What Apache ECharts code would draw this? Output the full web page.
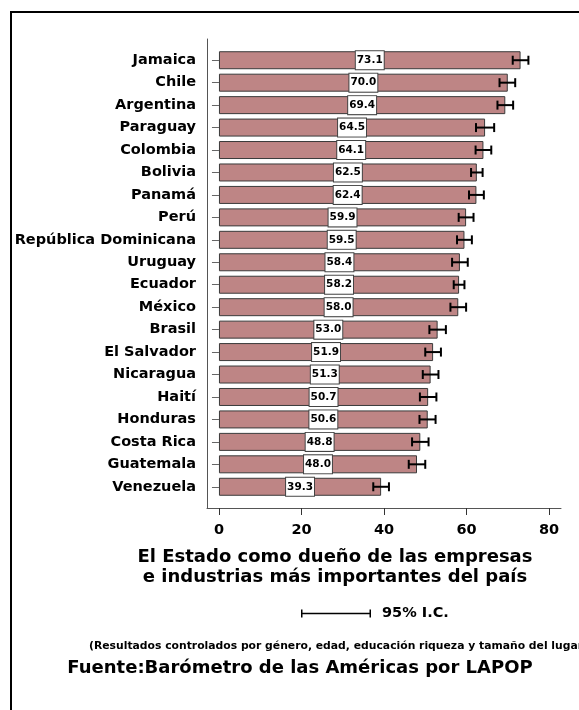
<!DOCTYPE html>
<html>
<head>
<meta charset="utf-8">
<script src="https://cdn.jsdelivr.net/npm/echarts@6.0.0/dist/echarts.min.js"></script>
<style>
html,body{margin:0;padding:0;background:#fff;}
#chart{width:579px;height:710px;}
</style>
</head>
<body>
<div id="chart"></div>
<script>
var countries = ['Jamaica','Chile','Argentina','Paraguay','Colombia','Bolivia','Panamá','Perú','República Dominicana','Uruguay','Ecuador','México','Brasil','El Salvador','Nicaragua','Haití','Honduras','Costa Rica','Guatemala','Venezuela'];
var values = [73.1,70.0,69.4,64.5,64.1,62.5,62.4,59.9,59.5,58.4,58.2,58.0,53.0,51.9,51.3,50.7,50.6,48.8,48.0,39.3];
var ciLow  = [71.2,68.0,67.5,62.3,62.2,61.1,60.6,58.1,57.7,56.5,56.9,56.1,51.0,50.0,49.4,48.7,48.6,46.8,46.0,37.4];
var ciHigh = [75.0,71.8,71.3,66.7,66.0,63.9,64.2,61.7,61.3,60.3,59.5,59.9,55.0,53.8,53.2,52.7,52.5,50.8,50.0,41.2];
var xTicks = [0,20,40,60,80];
var titleText = 'El Estado como dueño de las empresas\ne industrias más importantes del país';
var legendText = '95% I.C.';
var noteText = '(Resultados controlados por género, edad, educación riqueza y tamaño del lugar)';
var sourceText = 'Fuente:Barómetro de las Américas por LAPOP';

var FONT = '"DejaVu Sans", "Liberation Sans", Arial, sans-serif';
var ciData = countries.map(function(c, i){ return [ciLow[i], ciHigh[i], i]; });

var chart = echarts.init(document.getElementById('chart'), null, {renderer:'canvas'});
chart.setOption({
  animation: false,
  backgroundColor: '#fff',
  grid: [
    {left: 207, right: 18, top: 49, bottom: 212},
    {left: 207, right: 18, top: 39, bottom: 202}
  ],
  xAxis: [
    {gridIndex: 0, type: 'value', min: -2.9, max: 82.9, show: false},
    {gridIndex: 1, type: 'value', min: -2.9, max: 82.9,
      axisLine: {show: true, onZero: false, lineStyle: {color: '#555', width: 1}},
      axisTick: {show: true, length: 7, customValues: xTicks, lineStyle: {color: '#333', width: 1}},
      axisLabel: {show: true, customValues: xTicks, margin: 15, color: '#000', fontFamily: FONT, fontWeight: 'bold', fontSize: 14.5},
      splitLine: {show: false}
    }
  ],
  yAxis: [
    {gridIndex: 0, type: 'category', data: countries, inverse: true,
      axisLine: {show: false},
      axisTick: {show: true, alignWithLabel: true, length: 7, lineStyle: {color: '#666'}},
      axisLabel: {interval: 0, margin: 11, color: '#000', fontFamily: FONT, fontWeight: 'bold', fontSize: 14.5},
      splitLine: {show: false}
    },
    {gridIndex: 1, type: 'value', min: 0, max: 1,
      axisLine: {show: true, onZero: false, lineStyle: {color: '#555', width: 1}},
      axisTick: {show: false}, axisLabel: {show: false}, splitLine: {show: false}
    }
  ],
  legend: {
    show: true, selectedMode: false, left: 301, top: 606, padding: 0,
    itemWidth: 70, itemHeight: 8,
    data: [{name: legendText, icon: 'path://M0,0H1.5V8H0Z M0,3.25H70V4.75H0Z M68.5,0H70V8H68.5Z'}],
    textStyle: {color: '#000', fontFamily: FONT, fontWeight: 'bold', fontSize: 14.5, padding: [0,0,0,6]}
  },
  series: [
    {
      type: 'bar', xAxisIndex: 0, yAxisIndex: 0, data: values, barWidth: 18,
      itemStyle: {color: '#be8585', borderColor: '#3a3a3a', borderWidth: 1},
      label: {
        show: true, position: 'inside',
        formatter: function(p){ return p.value.toFixed(1); },
        color: '#000', fontFamily: FONT, fontWeight: 'bold', fontSize: 10.5, lineHeight: 12,
        backgroundColor: '#fff', borderColor: '#444', borderWidth: 1, padding: [3,1,3,1]
      },
      z: 2
    },
    {
      type: 'custom', name: legendText, xAxisIndex: 0, yAxisIndex: 0,
      data: ciData, encode: {x: [0,1], y: 2},
      itemStyle: {color: '#000'},
      z: 3,
      renderItem: function(params, api){
        var idx = api.value(2);
        var lo = api.coord([api.value(0), idx]);
        var hi = api.coord([api.value(1), idx]);
        var h = api.size([0,1])[1] * 0.2;
        var st = {stroke: '#000', lineWidth: 2};
        return {type: 'group', children: [
          {type: 'line', shape: {x1: lo[0], y1: lo[1], x2: hi[0], y2: hi[1]}, style: st},
          {type: 'line', shape: {x1: lo[0], y1: lo[1]-h, x2: lo[0], y2: lo[1]+h}, style: st},
          {type: 'line', shape: {x1: hi[0], y1: hi[1]-h, x2: hi[0], y2: hi[1]+h}, style: st}
        ]};
      }
    }
  ],
  graphic: [
    {type: 'rect', silent: true, z: 0, shape: {x: 11, y: 12, width: 640, height: 780}, style: {fill: null, stroke: '#000', lineWidth: 2}},
    {type: 'text', silent: true, x: 335, y: 547, style: {text: titleText, fill: '#000', fontFamily: FONT, fontWeight: 'bold', fontSize: 18, lineHeight: 20, align: 'center', verticalAlign: 'top'}},
    {type: 'text', silent: true, x: 89, y: 646, style: {text: noteText, fill: '#000', fontFamily: FONT, fontWeight: 'bold', fontSize: 10.8, align: 'left', verticalAlign: 'middle'}},
    {type: 'text', silent: true, x: 300, y: 668, style: {text: sourceText, fill: '#000', fontFamily: FONT, fontWeight: 'bold', fontSize: 18, align: 'center', verticalAlign: 'middle'}}
  ]
});
</script>
</body>
</html>
